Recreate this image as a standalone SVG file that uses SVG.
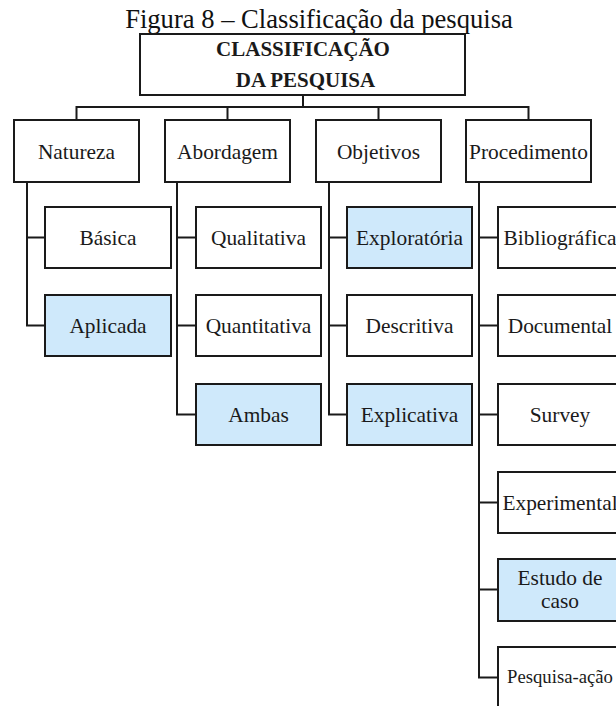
<svg xmlns="http://www.w3.org/2000/svg" width="616" height="706" viewBox="0 0 616 706">
<style>
.box{fill:#fff;stroke:#1a1a1a;stroke-width:2}
.hl{fill:#cfe9fb;stroke:#1a1a1a;stroke-width:2}
.lbl{font-family:'Liberation Serif','Times New Roman',serif;font-size:21.4px;fill:#1a1a1a;text-anchor:middle}
.small{font-size:18.7px}
.head{font-family:'Liberation Serif','Times New Roman',serif;font-size:21px;font-weight:bold;fill:#1a1a1a;text-anchor:middle}
.conn{fill:none;stroke:#1a1a1a;stroke-width:2}
</style>
<rect width="616" height="706" fill="#fff"/>
<g font-family="Liberation Serif, Times New Roman, serif">
<text x="319" y="28" font-size="26.6" fill="#111" text-anchor="middle">Figura 8 – Classificação da pesquisa</text>
<g id="connectors">
<path class="conn" d="M303 95V107M76.5 107H528.5M76.5 106V120M227.5 106V120M378.5 106V120M528.5 106V120"/>
<path class="conn" d="M27 182V325.5H45M27 237.5H45"/>
<path class="conn" d="M177 182V414.5H196M177 237.5H196M177 325.5H196"/>
<path class="conn" d="M329 182V414.5H347M329 237.5H347M329 325.5H347"/>
<path class="conn" d="M479 182V677.5H498M479 237.5H498M479 325.5H498M479 414.5H498M479 502.5H498M479 589.5H498"/>
</g>
<g id="root"><rect class="box" x="140" y="34" width="325" height="61"/><text class="head" x="303" y="56">CLASSIFICAÇÃO</text><text class="head" x="305.5" y="87">DA PESQUISA</text></g>
<g id="natureza"><rect class="box" x="14" y="120" width="125" height="62"/><text class="lbl" x="76.5" y="159">Natureza</text></g>
<g id="abordagem"><rect class="box" x="165" y="120" width="125" height="62"/><text class="lbl" x="227.5" y="159">Abordagem</text></g>
<g id="objetivos"><rect class="box" x="316" y="120" width="125" height="62"/><text class="lbl" x="378.5" y="159">Objetivos</text></g>
<g id="procedimento"><rect class="box" x="466" y="120" width="125" height="62"/><text class="lbl" x="528.5" y="159">Procedimento</text></g>
<g id="basica"><rect class="box" x="45" y="207" width="126" height="61"/><text class="lbl" x="108" y="245">Básica</text></g>
<g id="aplicada"><rect class="hl" x="45" y="295" width="126" height="61"/><text class="lbl" x="108" y="333">Aplicada</text></g>
<g id="qualitativa"><rect class="box" x="196" y="207" width="125" height="61"/><text class="lbl" x="258.5" y="245">Qualitativa</text></g>
<g id="quantitativa"><rect class="box" x="196" y="295" width="125" height="61"/><text class="lbl" x="258.5" y="333">Quantitativa</text></g>
<g id="ambas"><rect class="hl" x="196" y="384" width="125" height="61"/><text class="lbl" x="258.5" y="422">Ambas</text></g>
<g id="exploratoria"><rect class="hl" x="347" y="207" width="125" height="61"/><text class="lbl" x="409.5" y="245">Exploratória</text></g>
<g id="descritiva"><rect class="box" x="347" y="295" width="125" height="61"/><text class="lbl" x="409.5" y="333">Descritiva</text></g>
<g id="explicativa"><rect class="hl" x="347" y="384" width="125" height="61"/><text class="lbl" x="409.5" y="422">Explicativa</text></g>
<g id="bibliografica"><rect class="box" x="498" y="207" width="125" height="61"/><text class="lbl" x="560" y="245">Bibliográfica</text></g>
<g id="documental"><rect class="box" x="498" y="295" width="125" height="61"/><text class="lbl" x="560" y="333">Documental</text></g>
<g id="survey"><rect class="box" x="498" y="384" width="125" height="61"/><text class="lbl" x="560" y="422">Survey</text></g>
<g id="experimental"><rect class="box" x="498" y="472" width="125" height="61"/><text class="lbl" x="560" y="510">Experimental</text></g>
<g id="estudo"><rect class="hl" x="498" y="559" width="125" height="62"/><text class="lbl" x="560" y="585">Estudo de</text><text class="lbl" x="560" y="608">caso</text></g>
<g id="pesquisa-acao"><rect class="box" x="498" y="647" width="125" height="62"/><text class="lbl small" x="560" y="683">Pesquisa-ação</text></g>
</g>
</svg>
